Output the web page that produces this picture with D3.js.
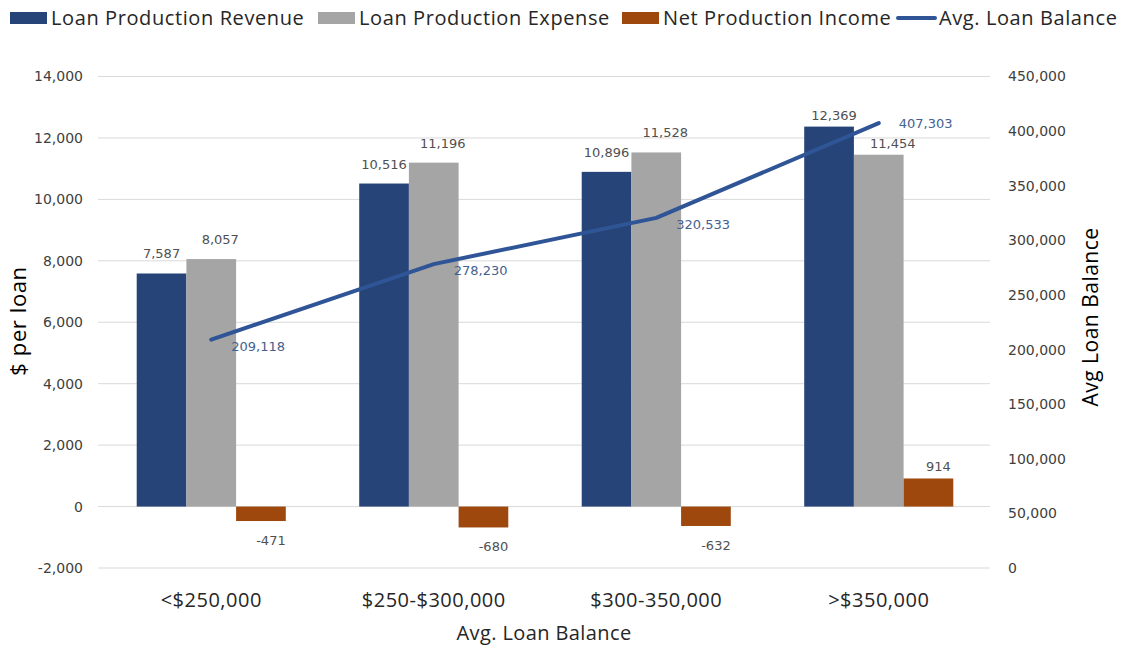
<!DOCTYPE html>
<html>
<head>
<meta charset="utf-8">
<script src="https://cdn.jsdelivr.net/npm/d3@7"></script>
<style>
  html, body { margin: 0; padding: 0; background: #fff; }
  svg { display: block; font-family: "Open Sans", "Noto Sans", sans-serif; }
</style>
</head>
<body>
<svg id="chart" width="1125" height="650"></svg>
<script>
// Loan production economics by average loan balance bucket
const categories = ["<$250,000", "$250-$300,000", "$300-350,000", ">$350,000"];
const seriesNames = ["Loan Production Revenue", "Loan Production Expense", "Net Production Income"];
const revenue = [7587, 10516, 10896, 12369];
const expense = [8057, 11196, 11528, 11454];
const netIncome = [-471, -680, -632, 914];
const avgBalanceName = "Avg. Loan Balance";
const avgBalance = [209118, 278230, 320533, 407303];
const leftTicks = [-2000, 0, 2000, 4000, 6000, 8000, 10000, 12000, 14000];
const rightTicks = [0, 50000, 100000, 150000, 200000, 250000, 300000, 350000, 400000, 450000];

const barColors = ["#264478", "#A5A5A5", "#9E480E"];
const lineColor = "#2F5597";
const labelColor = "#505050";
const lineLabelColor = "#44618F";
const gridColor = "#D9D9D9";
const numFont = "DejaVu Sans, Verdana, sans-serif";

const svg = d3.select("#chart");
const plot = { left: 100, right: 990, top: 76.5, bottom: 568 };

const x = d3.scaleBand().domain(categories).range([plot.left, plot.right])
  .paddingInner(0.33).paddingOuter(0.165);
const xs = d3.scaleBand().domain(seriesNames).range([0, x.bandwidth()]);
const y = d3.scaleLinear().domain([-2000, 14000]).range([plot.bottom, plot.top]);
const y2 = d3.scaleLinear().domain([0, 450000]).range([plot.bottom, plot.top]);
// thousands separator with a plain hyphen for negatives
const fmt = v => d3.format(",")(v).replace("\u2212", "-");

// gridlines
svg.append("g").selectAll("line").data(leftTicks).join("line")
  .attr("x1", plot.left - 2).attr("x2", plot.right)
  .attr("y1", d => y(d)).attr("y2", d => y(d))
  .attr("stroke", gridColor).attr("stroke-width", 1);

// left axis
const leftAxis = svg.append("g").attr("transform", `translate(${plot.left - 2},0)`)
  .call(d3.axisLeft(y).tickValues(leftTicks).tickFormat(fmt).tickSize(0).tickPadding(15));
leftAxis.select(".domain").remove();
leftAxis.selectAll("text").attr("font-size", 14).attr("fill", "#404040")
  .attr("font-family", numFont);

// right axis
const rightAxis = svg.append("g").attr("transform", `translate(${plot.right},0)`)
  .call(d3.axisRight(y2).tickValues(rightTicks).tickFormat(fmt).tickSize(0).tickPadding(18));
rightAxis.select(".domain").remove();
rightAxis.selectAll("text").attr("font-size", 14).attr("fill", "#404040")
  .attr("font-family", numFont);

// category axis labels
const bottomAxis = svg.append("g").attr("transform", `translate(0,${plot.bottom})`)
  .call(d3.axisBottom(x).tickSize(0).tickPadding(25));
bottomAxis.select(".domain").remove();
bottomAxis.selectAll("text").attr("font-size", 20).attr("fill", "#262626")
  .attr("letter-spacing", 0.5).attr("font-family", "Open Sans, sans-serif");

// axis titles
svg.append("text").attr("x", (plot.left + plot.right) / 2 - 1).attr("y", 640)
  .attr("text-anchor", "middle").attr("font-size", 20).attr("letter-spacing", 0.4)
  .attr("fill", "#262626").text("Avg. Loan Balance");
svg.append("text").attr("transform", "translate(26,321) rotate(-90)")
  .attr("text-anchor", "middle").attr("font-size", 22).attr("letter-spacing", 0.6)
  .attr("fill", "#000").text("$ per loan");
svg.append("text").attr("transform", "translate(1098,317) rotate(-90)")
  .attr("text-anchor", "middle").attr("font-size", 21).attr("letter-spacing", 0.5)
  .attr("fill", "#000").text("Avg Loan Balance");

// bars with value labels
const seriesValues = [revenue, expense, netIncome];
const labelShift = [0, 9, 10];
const lastCat = categories[categories.length - 1];
seriesValues.forEach((vals, si) => {
  const g = svg.append("g");
  const data = categories.map((c, i) => ({ c, v: vals[i] }));
  g.selectAll("rect").data(data).join("rect")
    .attr("x", d => x(d.c) + xs(seriesNames[si]))
    .attr("width", xs.bandwidth())
    .attr("y", d => y(Math.max(0, d.v)))
    .attr("height", d => Math.abs(y(d.v) - y(0)))
    .attr("fill", barColors[si]);
  g.selectAll("text").data(data).join("text")
    .attr("x", d => x(d.c) + xs(seriesNames[si]) + xs.bandwidth() / 2 + labelShift[si] + (d.c === lastCat && si < 2 ? 5 : 0))
    // labels in the last group sit closer to their bars to clear the line label
    .attr("y", d => d.v >= 0 ? y(d.v) - (d.c === lastCat ? 7 : 15) : y(d.v) + 24)
    .attr("text-anchor", "middle").attr("font-size", 13).attr("font-family", numFont)
    .attr("fill", labelColor)
    .text(d => fmt(d.v));
});

// average loan balance line on secondary axis
const pts = categories.map((c, i) => ({ c, v: avgBalance[i] }));
const cx = d => x(d.c) + x.bandwidth() / 2;
svg.append("path").datum(pts)
  .attr("d", d3.line().x(cx).y(d => y2(d.v)))
  .attr("fill", "none").attr("stroke", lineColor).attr("stroke-width", 4)
  .attr("stroke-linecap", "round").attr("stroke-linejoin", "round");
svg.append("g").selectAll("text").data(pts).join("text")
  .attr("x", d => cx(d) + 20)
  .attr("y", (d, i) => y2(d.v) + (i === pts.length - 1 ? 5 : 11))
  .attr("font-size", 13).attr("font-family", numFont).attr("fill", lineLabelColor)
  .text(d => fmt(d.v));

// legend
const legendItems = [
  { name: seriesNames[0], type: "rect", color: barColors[0], x: 10 },
  { name: seriesNames[1], type: "rect", color: barColors[1], x: 318 },
  { name: seriesNames[2], type: "rect", color: barColors[2], x: 622 },
  { name: avgBalanceName, type: "line", color: lineColor, x: 898 }
];
const lg = svg.append("g");
legendItems.forEach(it => {
  if (it.type === "rect") {
    lg.append("rect").attr("x", it.x).attr("y", 12).attr("width", 37).attr("height", 12).attr("fill", it.color);
  } else {
    lg.append("line").attr("x1", it.x).attr("x2", it.x + 37).attr("y1", 18).attr("y2", 18)
      .attr("stroke", it.color).attr("stroke-width", 4).attr("stroke-linecap", "round");
  }
  lg.append("text").attr("x", it.x + 41).attr("y", 25).attr("font-size", 20)
    .attr("letter-spacing", 0.6).attr("fill", "#262626").text(it.name);
});
</script>
</body>
</html>
